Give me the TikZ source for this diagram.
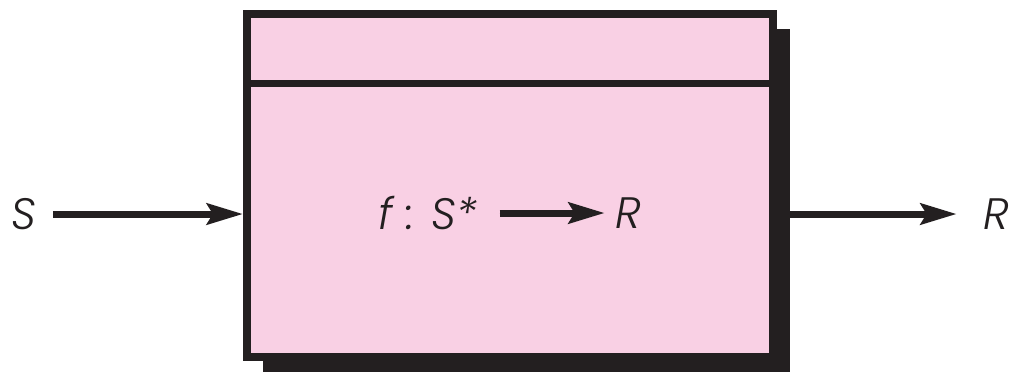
\documentclass[tikz,border=0pt]{standalone}
\usepackage{fontspec}
\setmainfont{Poppins}[UprightFont=* Light, ItalicFont=* Light Italic]
\usepackage{xcolor}
\usetikzlibrary{positioning, arrows.meta, calc}
\definecolor{boxpink}{RGB}{249,208,228}
\definecolor{inkblack}{RGB}{35,31,32}

\begin{document}
\begin{tikzpicture}[
  x=0.5pt, y=-0.5pt,
  >={Stealth[length=18pt, width=10.5pt, inset=3pt]},
  lbl/.style={font=\fontsize{22}{26}\selectfont\itshape, text=inkblack, inner sep=1pt},
  ar/.style={->, line width=3.5pt, draw=inkblack, fill=inkblack},
  unit/.style={draw=inkblack, line width=4pt, fill=boxpink,
               minimum width=263pt, minimum height=171.5pt, inner sep=0pt},
]
\useasboundingbox (0,0) rectangle (1009,372);
% shadow behind the unit
\fill[inkblack] (263,29) rectangle (790,372);
% ===================== unit =====================
\node[unit] (box) at (510,185.5) {};
\draw[inkblack, line width=3.5pt] (box.west |- 0,83) -- (box.east |- 0,83);
\node[lbl] (fmap) at (428,213) {f : S*};
\node[lbl] (rin) at (628,213) {R};
\draw[ar, shorten <=10pt, shorten >=4pt] (fmap.east) -- (rin.west);

% ===================== in / out =====================
\node[lbl] (sin) at (24,214) {S};
\node[lbl] (rout) at (996,214) {R};
\draw[ar, shorten <=7pt] (sin.east) -- (sin.east -| box.west);
\draw[ar, shorten >=12pt] (rout.west -| box.east) -- (rout.west);
\end{tikzpicture}
\end{document}
